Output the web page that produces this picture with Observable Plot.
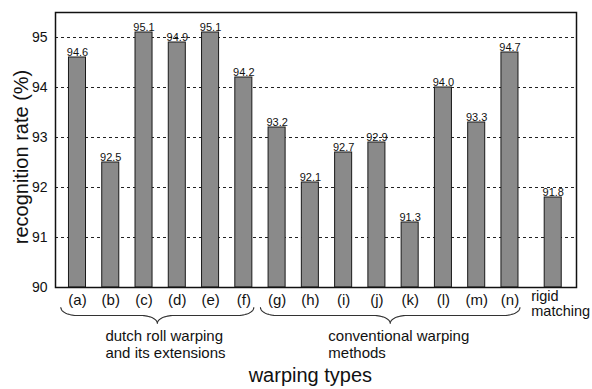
<!DOCTYPE html>
<html><head><meta charset="utf-8">
<script src="https://cdn.jsdelivr.net/npm/d3@7"></script>
<script src="https://cdn.jsdelivr.net/npm/@observablehq/plot@0.6"></script>
<style>
body{margin:0;background:#fff;}
#chart svg{font-family:"Liberation Sans",Arial,Helvetica,sans-serif;}
</style>
</head><body><div id="chart"></div>
<script>
// ---- data ----
const categories = ["(a)","(b)","(c)","(d)","(e)","(f)","(g)","(h)","(i)","(j)","(k)","(l)","(m)","(n)","rigid\nmatching"];
const rates = [94.6,92.5,95.1,94.9,95.1,94.2,93.2,92.1,92.7,92.9,91.3,94.0,93.3,94.7,91.8];
const rateLabels = ["94.6","92.5","95.1","94.9","95.1","94.2","93.2","92.1","92.7","92.9","91.3","94.0","93.3","94.7","91.8"];
const groupNames = ["dutch roll warping\nand its extensions","conventional warping\nmethods"];
const groupFirst = [0, 6];
const groupLast = [5, 13];
const yTicks = [90,91,92,93,94,95];
const yTitle = "recognition rate (%)";
const xTitle = "warping types";

// ---- layout helpers ----
const pos = i => i < 14 ? i : i + 0.3;   // extra gap before "rigid matching"
const half = 0.256;
const bars = categories.map((c,i)=>({cat:c, rate:rates[i], label:rateLabels[i], x:pos(i), idx:i}));

function brace(x0, x1, top, mid, tip, r, id){
  const pts = [];
  const xm = (x0+x1)/2, n = 16;
  for(let k=0;k<=n;k++){const t=k/n*Math.PI/2; pts.push({x:x0+r-r*Math.cos(t), y:top-(top-mid)*Math.sin(t), id});}
  for(let k=0;k<=n;k++){const t=k/n*Math.PI/2; pts.push({x:xm-r+r*Math.sin(t), y:tip+(mid-tip)*Math.cos(t), id});}
  for(let k=n;k>=0;k--){const t=k/n*Math.PI/2; pts.push({x:xm+r-r*Math.sin(t), y:tip+(mid-tip)*Math.cos(t), id});}
  for(let k=n;k>=0;k--){const t=k/n*Math.PI/2; pts.push({x:x1-r+r*Math.cos(t), y:top-(top-mid)*Math.sin(t), id});}
  return pts;
}
const braces = groupNames.flatMap((g,j)=>brace(groupFirst[j]-0.5, groupLast[j]+0.3, 89.6, 89.44, 89.28, 0.5, j));
const groupText = groupNames.map((g,j)=>({name:g, x:groupFirst[j]+ (j===0?0.84:1.54)}));

const font = 15;
const chart = Plot.plot({
  width: 592, height: 389,
  marginLeft: 55, marginRight: 16, marginTop: 12, marginBottom: 102,
  x: {domain: [-0.661, 15.0], axis: null},
  y: {domain: [90, 95.5], axis: null},
  style: {fontFamily: "Liberation Sans, Arial, Helvetica, sans-serif", background: "#fff", color: "#111"},
  marks: [
    Plot.gridY(yTicks.slice(1), {stroke:"#222", strokeOpacity:1, strokeDasharray:"3,3", strokeWidth:1}),
    Plot.rectY(bars, {x1: d=>d.x-half, x2: d=>d.x+half, y1: 90, y2: "rate", fill:"#8a8a8a", stroke:"#1a1a1a", strokeWidth:1}),
    Plot.text(bars, {x:"x", y:"rate", text:"label", lineAnchor:"bottom", dy:-2, fontSize:11, fill:"#111"}),
    Plot.frame({stroke:"#111", strokeWidth:1.5}),
    Plot.axisY(yTicks, {tickSize:0, tickPadding:8, tickFormat:"d", fontSize:14, fill:"#111"}),
    // category labels
    Plot.text(bars.filter(d=>d.idx<14), {x:"x", y:90, text:"cat", lineAnchor:"top", dy:7, fontSize:font, fill:"#111"}),
    Plot.text(bars.filter(d=>d.idx===14), {x:d=>d.x-0.66, y:90, text:"cat", textAnchor:"start", lineAnchor:"top", dy:2, lineHeight:1.07, fontSize:14.5, fill:"#111"}),
    // braces and group labels
    Plot.line(braces, {x:"x", y:"y", z:"id", stroke:"#333", strokeWidth:1.1}),
    Plot.text(groupText, {x:"x", y:90, text:"name", textAnchor:"start", lineAnchor:"top", dy:41.3, lineHeight:1.13, fontSize:font, fill:"#111"}),
    // titles
    Plot.text([xTitle], {x:7, y:90, lineAnchor:"top", dy:79.8, fontSize:20, fill:"#111"}),
    Plot.text([yTitle], {x:-1.695, y:92.61, rotate:-90, textAnchor:"middle", lineAnchor:"middle", fontSize:20, fill:"#111"})
  ]
});
document.getElementById("chart").appendChild(chart);
</script>
</body></html>
